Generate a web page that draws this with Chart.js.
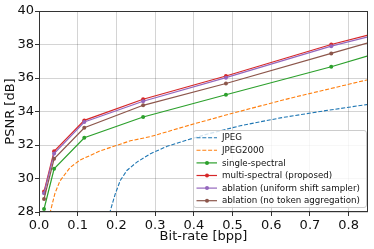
<!DOCTYPE html>
<html>
<head>
<meta charset="utf-8">
<script src="https://cdn.jsdelivr.net/npm/chart.js@4.4.1/dist/chart.umd.min.js"></script>
<style>
    html, body { margin: 0; padding: 0; background: #fff; }
    #wrap { position: relative; width: 374px; height: 249px; }
</style>
</head>
<body>
<div id="wrap"><canvas id="chart"></canvas></div>
<script>
// values
const xTicks = [0.0, 0.1, 0.2, 0.3, 0.4, 0.5, 0.6, 0.7, 0.8];
const yTicks = [28, 30, 32, 34, 36, 38, 40];

// learned codecs share the same rate points (last one is where the line leaves the plot)
const bitrates = [0.013, 0.039, 0.117, 0.269, 0.483, 0.755, 0.85];
const singleSpectral = [28.18, 30.58, 32.43, 33.67, 35.0, 36.67, 37.32];
const multiSpectral = [29.22, 31.62, 33.47, 34.73, 36.12, 38.0, 38.56];
const uniformShift = [29.12, 31.49, 33.37, 34.61, 36.02, 37.9, 38.46];
const noTokenAgg = [28.78, 31.18, 33.03, 34.37, 35.67, 37.47, 38.1];

const jpegRates = [0.182, 0.197, 0.21, 0.227, 0.253, 0.288, 0.331, 0.383, 0.43, 0.52, 0.624, 0.74, 0.852];
const jpegPsnr = [27.9, 29.08, 29.88, 30.48, 30.98, 31.48, 31.92, 32.3, 32.62, 33.15, 33.62, 34.05, 34.43];

const j2kRates = [0.028, 0.041, 0.054, 0.08, 0.106, 0.158, 0.236, 0.288, 0.391, 0.477, 0.55, 0.65, 0.75, 0.852];
const j2kPsnr = [27.9, 29.1, 29.85, 30.65, 31.1, 31.65, 32.25, 32.5, 33.2, 33.75, 34.2, 34.8, 35.35, 35.91];

const COLORS = {
    blue: '#1f77b4',
    orange: '#ff7f0e',
    green: '#2ca02c',
    red: '#d62728',
    purple: '#9467bd',
    brown: '#8c564b'
};

const FONT = 'DejaVu Sans';

const toPoints = (xs, ys) => xs.map((x, i) => ({ x: x, y: ys[i] }));

const dashed = (label, xs, ys, color, order) => ({
    label: label,
    data: toPoints(xs, ys),
    borderColor: color,
    backgroundColor: color,
    borderWidth: 1.1,
    borderDash: [4, 1.8],
    pointRadius: 0,
    tension: 0,
    order: order,
    marker: false
});

const solid = (label, ys, color, order) => ({
    label: label,
    data: toPoints(bitrates, ys),
    borderColor: color,
    backgroundColor: color,
    borderWidth: 1.2,
    pointRadius: (c) => c.dataIndex === bitrates.length - 1 ? 0 : 2,
    pointBorderWidth: 0,
    tension: 0,
    order: order,
    marker: true
});

// frame + legend drawn on top, matplotlib style
const framePlugin = {
    id: 'frame',
    afterDatasetsDraw(chart) {
        const { ctx, chartArea: a } = chart;
        ctx.save();
        ctx.strokeStyle = '#333';
        ctx.lineWidth = 1;
        ctx.strokeRect(Math.round(a.left) + 0.5, Math.round(a.top) + 0.5,
            Math.round(a.right - a.left) - 1, Math.round(a.bottom - a.top) - 1);

        // legend, lower right inside the axes
        const sets = chart.data.datasets;
        const rowH = 12.6;
        const w = 173, h = 77;
        const x0 = a.right - 2 - w, y0 = a.bottom - 5 - h;
        ctx.beginPath();
        ctx.roundRect(x0 + 0.5, y0 + 0.5, w, h, 2.5);
        ctx.fillStyle = 'rgba(255,255,255,0.8)';
        ctx.fill();
        ctx.strokeStyle = '#cccccc';
        ctx.stroke();

        ctx.font = '8.7px "' + FONT + '"';
        ctx.textBaseline = 'middle';
        sets.forEach((ds, i) => {
            const cy = y0 + 7.7 + i * rowH;
            ctx.strokeStyle = ds.borderColor;
            ctx.lineWidth = ds.borderWidth;
            ctx.setLineDash(ds.borderDash || []);
            ctx.beginPath();
            ctx.moveTo(x0 + 3.5, cy);
            ctx.lineTo(x0 + 24, cy);
            ctx.stroke();
            ctx.setLineDash([]);
            if (ds.marker) {
                ctx.fillStyle = ds.borderColor;
                ctx.beginPath();
                ctx.arc(x0 + 14, cy, 2, 0, Math.PI * 2);
                ctx.fill();
            }
            ctx.fillStyle = '#111';
            ctx.fillText(ds.label, x0 + 29, cy + 0.5);
        });
        ctx.restore();
    }
};

const initChart = () => {
    const ctx = document.getElementById('chart').getContext('2d');
    new Chart(ctx, {
        type: 'line',
        data: {
            datasets: [
                dashed('JPEG', jpegRates, jpegPsnr, COLORS.blue, 5),
                dashed('JPEG2000', j2kRates, j2kPsnr, COLORS.orange, 4),
                solid('single-spectral', singleSpectral, COLORS.green, 3),
                solid('multi-spectral (proposed)', multiSpectral, COLORS.red, 2),
                solid('ablation (uniform shift sampler)', uniformShift, COLORS.purple, 1),
                solid('ablation (no token aggregation)', noTokenAgg, COLORS.brown, 0)
            ]
        },
        options: {
            responsive: true,
            maintainAspectRatio: false,
            animation: false,
            layout: { padding: { top: 11, right: 6, left: 0, bottom: 0 } },
            plugins: { legend: { display: false }, tooltip: { enabled: false } },
            scales: {
                x: {
                    type: 'linear',
                    min: 0,
                    max: 0.85,
                    afterBuildTicks: (s) => { s.ticks = xTicks.map(v => ({ value: v })); },
                    afterFit: (s) => { s.height = 37; },
                    border: { display: false },
                    grid: { color: 'rgba(0,0,0,0.17)', lineWidth: 1, drawTicks: true, tickLength: 4, tickColor: '#333' },
                    ticks: {
                        color: '#111',
                        padding: 2,
                        maxRotation: 0,
                        font: { family: FONT, size: 13 },
                        callback: (v) => Number(v).toFixed(1)
                    },
                    title: {
                        display: true,
                        text: 'Bit-rate [bpp]',
                        color: '#111',
                        font: { family: FONT, size: 13 },
                        padding: { top: 0, bottom: 5 }
                    }
                },
                y: {
                    min: 28,
                    max: 40,
                    afterBuildTicks: (s) => { s.ticks = yTicks.map(v => ({ value: v })); },
                    afterFit: (s) => { s.width = 39; },
                    border: { display: false },
                    grid: { color: 'rgba(0,0,0,0.17)', lineWidth: 1, drawTicks: true, tickLength: 4, tickColor: '#333' },
                    ticks: {
                        color: '#111',
                        padding: 1,
                        font: { family: FONT, size: 13 },
                        callback: (v) => String(v)
                    },
                    title: {
                        display: true,
                        text: 'PSNR [dB]',
                        color: '#111',
                        font: { family: FONT, size: 13 },
                        padding: { top: 3, bottom: 0 }
                    }
                }
            }
        },
        plugins: [framePlugin]
    });
};

window.addEventListener('DOMContentLoaded', initChart);
</script>
</body>
</html>
